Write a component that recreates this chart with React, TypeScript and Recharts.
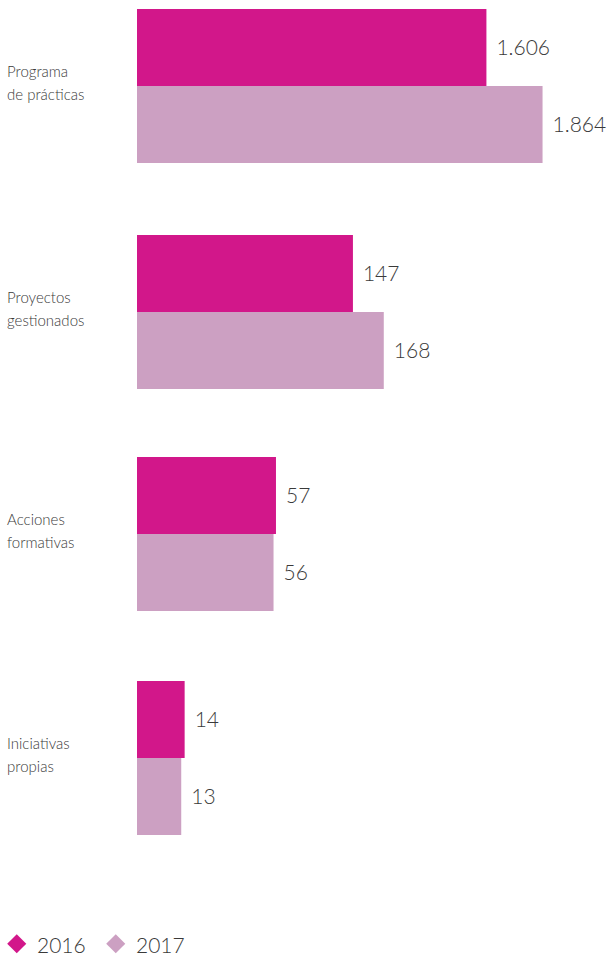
import { BarChart, Bar, XAxis, YAxis, LabelList } from 'recharts'

const categories = [
    ['Programa', 'de prácticas'],
    ['Proyectos', 'gestionados'],
    ['Acciones', 'formativas'],
    ['Iniciativas', 'propias'],
]
const values2016 = [1606, 147, 57, 14]
const values2017 = [1864, 168, 56, 13]
const seriesNames = ['2016', '2017']
// each block of the original has its own scale
const axisMax = [2174, 322, 194, 139]

const color2016 = '#d2178a'
const color2017 = '#cca0c2'
const textColor = '#3a3a3a'
const font = 'Lato, "Open Sans", sans-serif'

const groupTops = [7, 233, 455, 679]
const chartWidth = 610
const chartHeight = 157

const formatValue = (v: any) => String(v).replace(/\B(?=(\d{3})+(?!\d))/g, '.')

const CategoryTick = ({ y, payload }: any) => {
    const lines: string[] = payload.value.split('|')
    return (
        <text x={7} y={y} fill={textColor} fontSize={15} fontWeight={300} fontFamily={font}>
            {lines.map((line, i) => (
                <tspan key={i} x={7} y={y - 9 + i * 23}>{line}</tspan>
            ))}
        </text>
    )
}

const Group = ({ index }: { index: number }) => {
    const data = [{
        name: categories[index].join('|'),
        v2016: values2016[index],
        v2017: values2017[index],
    }]
    const labelStyle = { fill: textColor, fontSize: 21, fontWeight: 300, fontFamily: font }
    return (
        <div style={{ position: 'absolute', left: 0, top: groupTops[index] }}>
            <BarChart
                width={chartWidth}
                height={chartHeight}
                data={data}
                layout="vertical"
                margin={{ top: 0, right: 0, bottom: 0, left: 0 }}
                barCategoryGap={0}
                barGap={3}
            >
                <XAxis type="number" domain={[0, axisMax[index]]} hide />
                <YAxis
                    type="category"
                    dataKey="name"
                    width={137}
                    axisLine={false}
                    tickLine={false}
                    tick={<CategoryTick />}
                />
                <Bar dataKey="v2016" fill={color2016} barSize={77} isAnimationActive={false}>
                    <LabelList dataKey="v2016" position="right" offset={10} formatter={formatValue} style={labelStyle} />
                </Bar>
                <Bar dataKey="v2017" fill={color2017} barSize={77} isAnimationActive={false}>
                    <LabelList dataKey="v2017" position="right" offset={10} formatter={formatValue} style={labelStyle} />
                </Bar>
            </BarChart>
        </div>
    )
}

const LegendRow = () => {
    const colors = [color2016, color2017]
    const xs = [7, 106]
    return (
        <svg width={chartWidth} height={40} style={{ position: 'absolute', left: 0, top: 924 }}>
            {seriesNames.map((name, i) => (
                <g key={name}>
                    <rect
                        x={xs[i] + 3}
                        y={13}
                        width={13.5}
                        height={13.5}
                        fill={colors[i]}
                        transform={`rotate(45 ${xs[i] + 9.75} ${19.75})`}
                    />
                    <text x={xs[i] + 30} y={29} fill={textColor} fontSize={21} fontWeight={300} fontFamily={font}>
                        {name}
                    </text>
                </g>
            ))}
        </svg>
    )
}

export default function App() {
    return (
        <div style={{ position: 'absolute', left: 0, top: 0, width: 610, height: 959, background: '#fff' }}>
            {categories.map((_, i) => <Group key={i} index={i} />)}
            <LegendRow />
        </div>
    )
}
